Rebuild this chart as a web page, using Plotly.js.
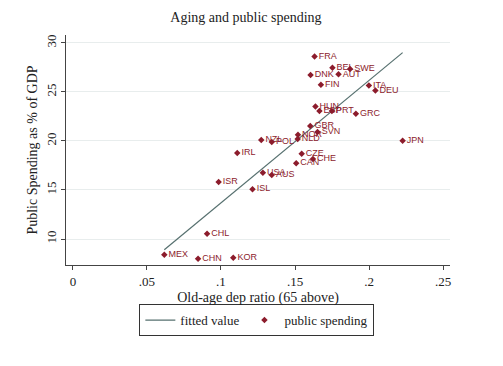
<!DOCTYPE html>
<html>
<head>
<meta charset="utf-8">
<script src="https://cdn.plot.ly/plotly-3.0.1.min.js"></script>
<style>html,body{margin:0;padding:0;background:#fff;}#chart{width:503px;height:366px;}</style>
</head>
<body>
<div id="chart"></div>
<script>
var countries = ["FRA","BEL","SWE","DNK","AUT","FIN","ITA","DEU","HUN","ESP","PRT","GRC","GBR","SVN","NOR","NLD","JPN","NZL","POL","IRL","CZE","CHE","CAN","USA","AUS","ISR","ISL","CHL","MEX","CHN","KOR"];
var oldAgeRatio = [0.1632,0.1753,0.1872,0.1605,0.1794,0.1675,0.1999,0.2043,0.1638,0.1665,0.1749,0.1911,0.1603,0.1652,0.1520,0.1518,0.2227,0.1272,0.1343,0.1110,0.1545,0.1621,0.1508,0.1283,0.1343,0.0984,0.1213,0.0906,0.0617,0.0845,0.1083];
var publicSpending = [28.62,27.47,27.33,26.71,26.79,25.73,25.66,25.15,23.52,23.06,23.06,22.76,21.51,20.92,20.64,20.20,20.03,20.10,19.90,18.76,18.69,18.16,17.73,16.76,16.52,15.80,15.08,10.53,8.39,7.98,8.08];
var fittedX = [0.0617, 0.2227];
var fittedY = [8.90, 29.0];
var xTickVals = [0, 0.05, 0.1, 0.15, 0.2, 0.25];
var xTickText = ["0", ".05", ".1", ".15", ".2", ".25"];
var yTickVals = [10, 15, 20, 25, 30];

var serif = "Liberation Serif, Times New Roman, serif";
var markColor = "#8c1c2c";

var traces = [
  {
    x: fittedX, y: fittedY, mode: "lines", name: "fitted value",
    line: {color: "#56706f", width: 1.2}, hoverinfo: "skip"
  },
  {
    x: oldAgeRatio, y: publicSpending, mode: "markers+text", name: "public spending",
    text: countries, textposition: "middle right",
    textfont: {family: "Liberation Sans, Arial, sans-serif", size: 9, color: markColor},
    marker: {symbol: "diamond", size: 5, color: markColor}
  }
];

var layout = {
  width: 503, height: 366,
  paper_bgcolor: "#ffffff", plot_bgcolor: "#ffffff",
  margin: {l: 66, r: 53, t: 35, b: 101},
  title: {text: "Aging and public spending", font: {family: serif, size: 14, color: "#222"},
          x: 0.489, xref: "container", xanchor: "center", y: 0.952, yref: "container", yanchor: "middle"},
  showlegend: true,
  legend: {orientation: "h", x: 0.497, xanchor: "center", y: -0.17, yanchor: "top",
           bordercolor: "#333", borderwidth: 1, font: {family: serif, size: 13, color: "#222"},
           itemwidth: 30, tracegroupgap: 0},
  xaxis: {
    range: [-0.0047, 0.2547], tickvals: xTickVals, ticktext: xTickText,
    showline: true, linecolor: "#444", linewidth: 1, mirror: false,
    ticks: "outside", ticklen: 4, tickcolor: "#444",
    showgrid: false, zeroline: false,
    tickfont: {family: serif, size: 13, color: "#222"},
    title: {text: "Old-age dep ratio (65 above)", font: {family: serif, size: 14, color: "#222"}, standoff: 4}
  },
  yaxis: {
    range: [7.35, 30.8], tickvals: yTickVals, tickangle: -90,
    showline: true, linecolor: "#444", linewidth: 1, mirror: false,
    ticks: "outside", ticklen: 4, tickcolor: "#444",
    showgrid: true, gridcolor: "#e8eded", gridwidth: 1, zeroline: false,
    tickfont: {family: serif, size: 13, color: "#222"},
    title: {text: "Public Spending as % of GDP", font: {family: serif, size: 14, color: "#222"}, standoff: 2}
  }
};

Plotly.newPlot("chart", traces, layout, {displayModeBar: false, staticPlot: true});
</script>
</body>
</html>
